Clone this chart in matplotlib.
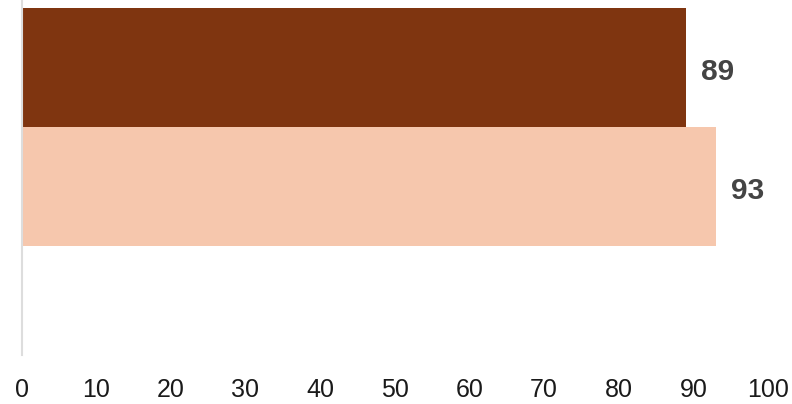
import matplotlib
matplotlib.use("Agg")
import matplotlib.pyplot as plt

categories = ["A", "B"]
values = [89, 93]
colors = ["#7f3510", "#f6c7ad"]
xticks = [0, 10, 20, 30, 40, 50, 60, 70, 80, 90, 100]

plt.rcParams['font.family'] = ['Liberation Sans', 'DejaVu Sans']

W, H = 792, 404
fig = plt.figure(figsize=(W / 100, H / 100), dpi=100)
left = 21.5 / W
right = 768 / W
bottom = (H - 355) / H
ax = fig.add_axes([left, bottom, right - left, 1 - bottom])

pos = list(range(len(categories)))
ax.barh(pos, values, height=1.0, color=colors, edgecolor='none')
ax.set_xlim(0, 100)
unit = 119.0
ax.set_ylim((355 - 8) / unit - 0.5, -0.5 - 8 / unit)

for p, v in zip(pos, values):
    ax.annotate(str(v), (v, p), xytext=(15, -4.5), textcoords='offset pixels',
                ha='left', va='center', fontsize=21.5, fontweight='bold', color='#444444')

for s in ['top', 'right', 'bottom']:
    ax.spines[s].set_visible(False)
ax.spines['left'].set_color('#dddddd')
ax.spines['left'].set_linewidth(1.5)
ax.set_yticks([])
ax.set_xticks(xticks)
ax.set_xticklabels([str(t) for t in xticks])
ax.tick_params(axis='x', length=0, pad=16.5, labelsize=18, labelcolor='#1a1a1a')

fig.savefig("out.png", dpi=100)
